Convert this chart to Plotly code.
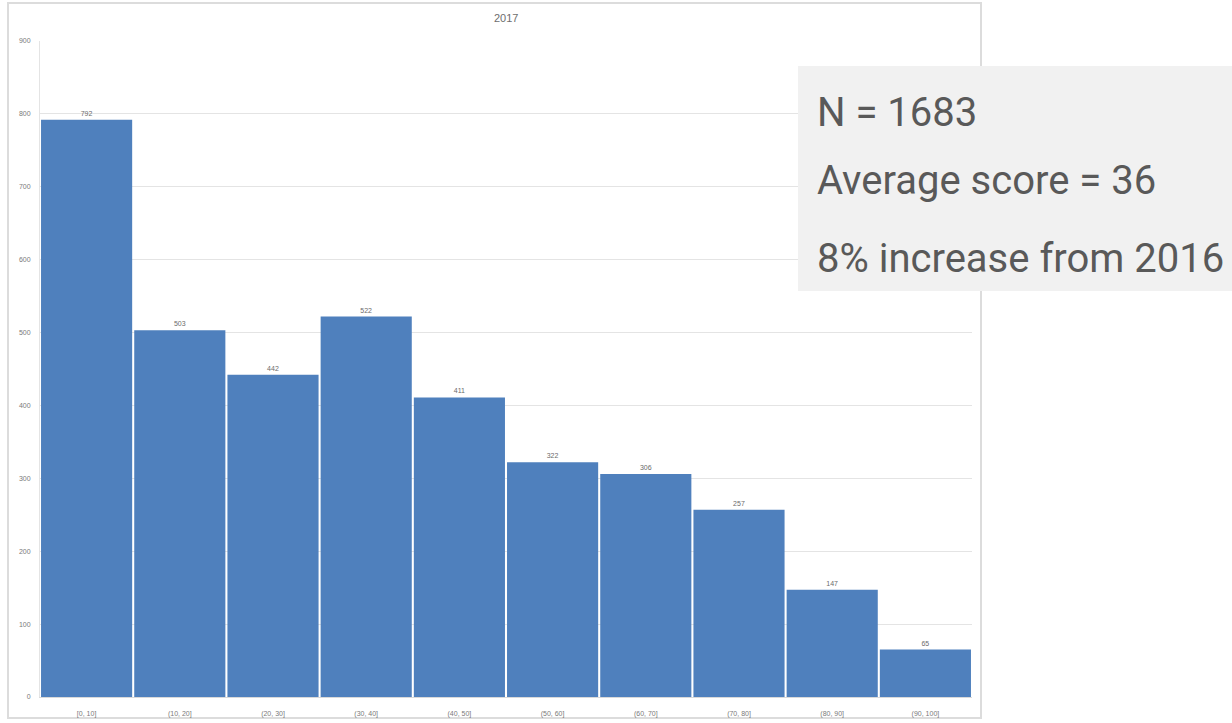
import plotly.graph_objects as go

categories = ["[0, 10]", "(10, 20]", "(20, 30]", "(30, 40]", "(40, 50]",
              "(50, 60]", "(60, 70]", "(70, 80]", "(80, 90]", "(90, 100]"]
counts = [792, 503, 442, 522, 411, 322, 306, 257, 147, 65]
title_text = "2017"
info_lines = ["N = 1683", "Average score = 36", "8% increase from 2016"]
y_ticks = [0, 100, 200, 300, 400, 500, 600, 700, 800, 900]

W, H = 1232, 723
L, R, T, B = 40, 972, 41, 697  # plot area in pixels


def px(x):
    return (x - L) / (R - L)


def py(y):
    return (B - y) / (B - T)


fig = go.Figure(go.Bar(
    x=categories, y=counts,
    marker=dict(color="#4f80bd", line=dict(width=0)),
    text=[str(v) for v in counts], textposition="outside",
    textfont=dict(size=7, color="#6b6b6b", family="Liberation Sans, sans-serif"),
    cliponaxis=False,
))

fig.update_layout(
    width=W, height=H,
    margin=dict(l=L, r=W - R, t=T, b=H - B, pad=0, autoexpand=False),
    paper_bgcolor="white", plot_bgcolor="white",
    bargap=0.022,
    showlegend=False,
    font=dict(family="Liberation Sans, sans-serif", color="#7a7a7a"),
)
fig.update_xaxes(
    showgrid=False, zeroline=False, showline=True, linecolor="#d9d9d9", linewidth=1,
    ticks="", tickfont=dict(size=7, color="#7a7a7a"), ticklabelstandoff=10,
    automargin=False,
)
fig.update_yaxes(
    range=[0, 900], tickvals=y_ticks, showgrid=True, gridcolor="#e4e4e4", gridwidth=1,
    zeroline=False, showline=True, linecolor="#e4e4e4", linewidth=1,
    ticks="", tickfont=dict(size=7, color="#7a7a7a"), ticklabelstandoff=7,
    automargin=False,
)

# outer chart border
fig.add_shape(type="rect", xref="paper", yref="paper",
              x0=px(8), x1=px(981), y0=py(718), y1=py(3),
              line=dict(color="#dcdcdc", width=2), fillcolor="rgba(0,0,0,0)", layer="below")

# title
fig.add_annotation(text=title_text, xref="paper", yref="paper", x=px(506), y=py(18),
                   showarrow=False, xanchor="center", yanchor="middle",
                   font=dict(size=11, color="#6e6e6e"))

# info box
fig.add_shape(type="rect", xref="paper", yref="paper",
              x0=px(798), x1=px(1240), y0=py(291), y1=py(66),
              line=dict(width=0), fillcolor="#f1f1f1", layer="above")
for line, yc in zip(info_lines, [113, 180, 258]):
    fig.add_annotation(text=line, xref="paper", yref="paper", x=px(815), y=py(yc),
                       showarrow=False, xanchor="left", yanchor="middle",
                       font=dict(size=40, color="#595959", family="Roboto"))

fig.write_html("out.html", config={"displayModeBar": False})
with open("out.html", encoding="utf-8") as f:
    html = f.read()
html = html.replace("<body>", '<body style="margin:0;overflow:hidden;">', 1)
with open("out.html", "w", encoding="utf-8") as f:
    f.write(html)
